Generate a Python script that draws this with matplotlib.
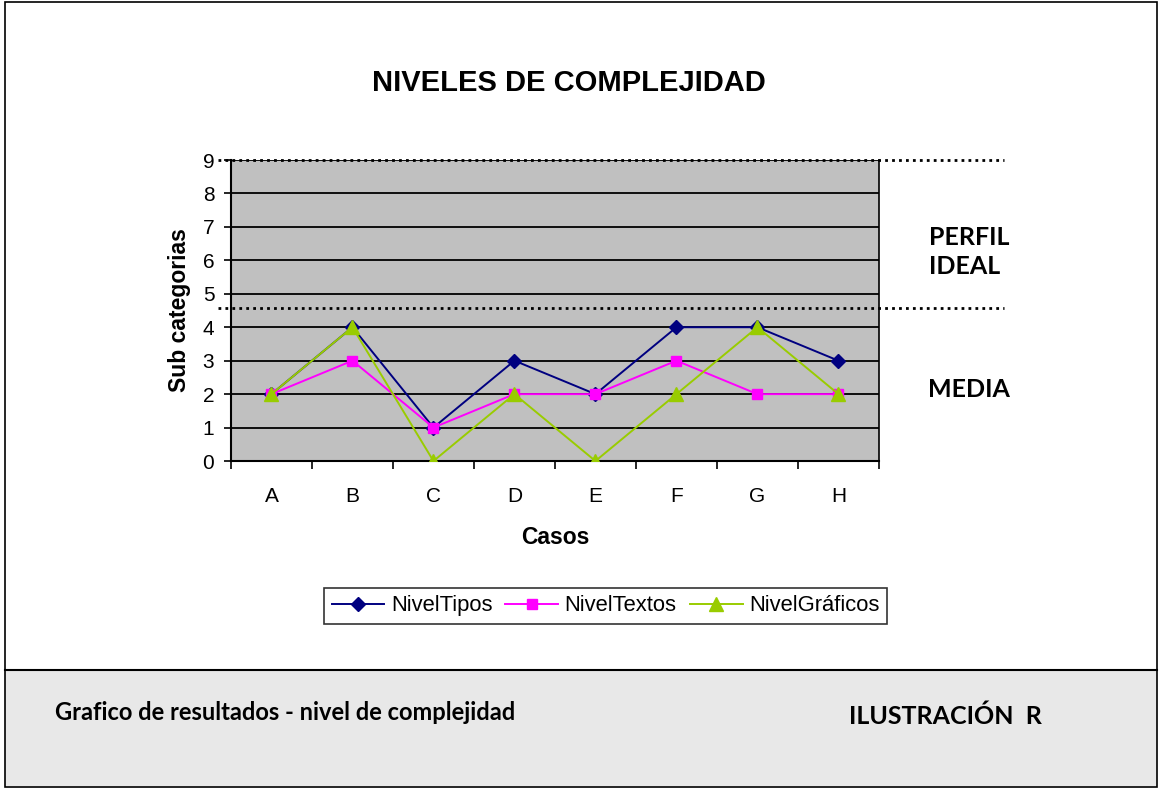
import matplotlib.pyplot as plt
from matplotlib.patches import Rectangle
from matplotlib.lines import Line2D

# datos del grafico
casos = ["A", "B", "C", "D", "E", "F", "G", "H"]
nivel_tipos = [2, 4, 1, 3, 2, 4, 4, 3]
nivel_textos = [2, 3, 1, 2, 2, 3, 2, 2]
nivel_graficos = [2, 4, 0, 2, 0, 2, 4, 2]
limite_ideal = 9
limite_media = 4.575

plt.rcParams['font.family'] = ['Liberation Sans', 'DejaVu Sans']

fig = plt.figure(figsize=(11.6, 7.89), dpi=100)
ax = fig.add_axes([0.1991, 0.4157, 0.5586, 0.3815])

# marco y pie de pagina
fig.patches.append(Rectangle((0.004, 0.004), 0.993, 0.146, transform=fig.transFigure,
                             facecolor='#e8e8e8', edgecolor='none', zorder=0))
fig.add_artist(Line2D([0.004, 0.997], [0.151, 0.151], color='black', lw=1.5))
fig.patches.append(Rectangle((0.004, 0.003), 0.993, 0.994, transform=fig.transFigure,
                             facecolor='none', edgecolor='black', lw=1.2, zorder=5))

x = list(range(len(casos)))
ax.set_facecolor('#c0c0c0')
ax.plot(x, nivel_tipos, color='#000080', lw=1.4, marker='D', ms=7.5, label='NivelTipos', zorder=3)
ax.plot(x, nivel_textos, color='#ff00ff', lw=1.4, marker='s', ms=7.5, label='NivelTextos', zorder=4)
ax.plot(x, nivel_graficos, color='#99cc00', lw=1.4, marker='^', ms=10, label='NivelGráficos', zorder=5)

ax.set_xlim(-0.5, len(casos) - 0.5)
ax.set_ylim(0, 9)
ax.set_yticks(range(0, 10))
ax.yaxis.grid(True, color='black', lw=1.3)
ax.set_axisbelow(True)
ax.set_xticks(x)
ax.set_xticklabels(casos)
ax.set_xticks([i - 0.5 for i in range(len(casos) + 1)], minor=True)
ax.tick_params(axis='x', which='major', length=0, labelsize=15, pad=19)
ax.tick_params(axis='x', which='minor', length=6, width=1.2, direction='out')
ax.tick_params(axis='y', length=5, width=1.2, labelsize=15, pad=7)
ax.spines['top'].set_visible(False)
for s in ['left', 'bottom']:
    ax.spines[s].set_linewidth(1.5)
ax.spines['right'].set_linewidth(1.2)

ax.set_xlabel('Casos', fontsize=16.5, fontweight='bold', labelpad=14)
ax.set_ylabel('Sub categorias', fontsize=16.5, fontweight='bold', labelpad=8)
fig.text(0.49, 0.895, 'NIVELES DE COMPLEJIDAD', fontsize=21, fontweight='bold',
         ha='center', va='center')

# lineas punteadas de referencia
for yv in [limite_ideal, limite_media]:
    ax.plot([-0.66, 9.05], [yv, yv], color='black', lw=2, ls=(0, (1, 1.5)),
            clip_on=False, zorder=6)

ax.text(1.078, 0.695, 'PERFIL\nIDEAL', transform=ax.transAxes, fontsize=18,
        fontweight='bold', family='Lato', va='center', ha='left', linespacing=1.3)
ax.text(1.075, 0.236, 'MEDIA', transform=ax.transAxes, fontsize=18,
        fontweight='bold', family='Lato', va='center', ha='left')

leg = fig.legend(loc='center', bbox_to_anchor=(0.522, 0.232), ncol=3, fontsize=15.8,
                 frameon=True, fancybox=False, edgecolor='black', handlelength=2.4,
                 columnspacing=0.6, handletextpad=0.3, borderpad=0.35)
leg.get_frame().set_linewidth(1.2)

fig.text(0.047, 0.097, 'Grafico de resultados - nivel de complejidad', fontsize=17,
         fontweight='bold', family='Lato', va='center')
fig.text(0.732, 0.092, 'ILUSTRACIÓN  R', fontsize=18, fontweight='bold',
         family='Lato', va='center')

fig.savefig('out.png', dpi=100)
